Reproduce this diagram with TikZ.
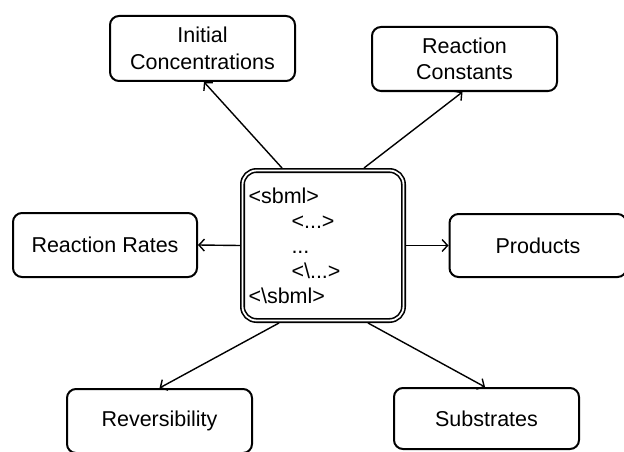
\documentclass[tikz,border=0pt]{standalone}
\usepackage{fontspec}
\setmainfont{Liberation Sans}
\usetikzlibrary{arrows.meta,calc}
\begin{document}
\begin{tikzpicture}[x=1pt,y=-1pt,
  box/.style={draw, line width=2pt, rounded corners=9pt, align=center,
    font=\fontsize{21.5}{26.5}\selectfont, inner sep=0pt, outer sep=1pt},
  hub/.style={draw, double=white, line width=1.6pt, double distance=1.8pt,
    rounded corners=14pt, minimum height=150pt, text width=149pt,
    inner xsep=6pt, inner ysep=0pt, outer sep=2.5pt, align=left,
    font=\fontsize{21.5}{25}\selectfont},
  arr/.style={line width=1.4pt, -{Straight Barb[length=5.5pt,width=12pt]}}]
\useasboundingbox (0,0) rectangle (624,452);

\node[box, minimum width=185pt, minimum height=65pt] (ic) at (202.5,48.5) {Initial\\Concentrations};
\node[box, minimum width=185pt, minimum height=64pt] (rc) at (464.5,59) {Reaction\\Constants};
\node[box, minimum width=184pt, minimum height=64pt] (rr) at (105,245) {Reaction Rates};
\node[box, minimum width=177pt, minimum height=63pt] (pr) at (538,245.5) {Products};
\node[box, minimum width=185pt, minimum height=64pt] (rv) at (159.5,421) {Reversibility};
\node[box, minimum width=185pt, minimum height=61pt] (sb) at (486.5,418.5) {Substrates};

\node[hub] (c) at (323,245.5) {\textless sbml\textgreater\\
\hspace*{43pt}\textless...\textgreater\\
\hspace*{43pt}...\\
\hspace*{43pt}\textless\textbackslash...\textgreater\\
\textless\textbackslash sbml\textgreater};

\draw[arr] ([xshift=-41pt]c.north) -- ([xshift=1.5pt]ic.south);
\draw[arr] ([xshift=41pt]c.north) -- ([xshift=-2pt]rc.south);
\draw[arr] (c.west) -- (rr.east);
\draw[arr] (c.east) -- (pr.west);
\draw[arr] ([xshift=-44pt]c.south) -- (rv.north);
\draw[arr] ([xshift=45pt]c.south) -- ([xshift=-1.5pt]sb.north);
\end{tikzpicture}
\end{document}
